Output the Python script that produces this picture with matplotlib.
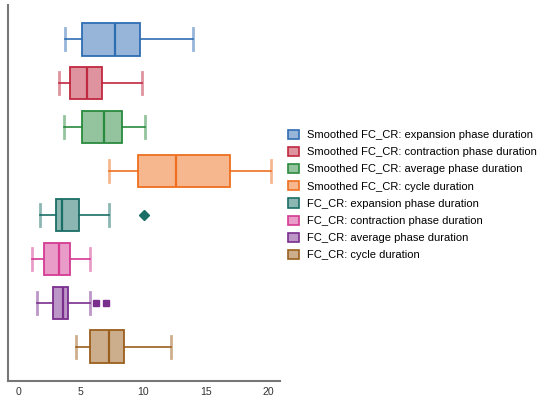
import matplotlib
matplotlib.use("Agg")
import matplotlib.pyplot as plt
from matplotlib.colors import to_rgba
from matplotlib.patches import Patch

plt.rcParams['font.family'] = ['Liberation Sans', 'DejaVu Sans']

labels = [
    "Smoothed FC_CR: expansion phase duration",
    "Smoothed FC_CR: contraction phase duration",
    "Smoothed FC_CR: average phase duration",
    "Smoothed FC_CR: cycle duration",
    "FC_CR: expansion phase duration",
    "FC_CR: contraction phase duration",
    "FC_CR: average phase duration",
    "FC_CR: cycle duration",
]
whislo = [3.78, 3.28, 3.68, 7.28, 1.79, 1.12, 1.52, 4.61]
q1 = [5.15, 4.16, 5.12, 9.63, 3.04, 2.05, 2.83, 5.79]
med = [7.79, 5.55, 6.85, 12.64, 3.55, 3.28, 3.60, 7.25]
q3 = [9.73, 6.75, 8.35, 16.99, 4.91, 4.13, 4.03, 8.45]
whishi = [14.0, 9.89, 10.13, 20.24, 7.28, 5.76, 5.76, 12.24]
fliers = [[], [], [], [], [10.11], [], [6.21, 7.01], []]
flier_markers = ['o', 'o', 'o', 'o', 'D', 'o', 's', 'o']

edge_colors = ['#2f6db3', '#c0283f', '#2a8a3e', '#ee6f1f',
               '#1a6e66', '#d63a93', '#7a2e8e', '#9b5f1d']

fig = plt.figure(figsize=(5.43, 3.98), dpi=100)
ax = fig.add_axes([8 / 543, 1 - 381 / 398, 272 / 543, 376 / 398])

for i in range(len(labels)):
    stats = [dict(whislo=whislo[i], q1=q1[i], med=med[i], q3=q3[i],
                  whishi=whishi[i], fliers=fliers[i])]
    c = edge_colors[i]
    ax.bxp(stats, positions=[i], vert=False, widths=0.74, capwidths=0.5,
           patch_artist=True, manage_ticks=False,
           boxprops=dict(facecolor=to_rgba(c, 0.5), edgecolor=c, linewidth=1.3),
           medianprops=dict(color=c, linewidth=1.6),
           whiskerprops=dict(color=c, linewidth=1.2),
           capprops=dict(color=c, linewidth=2, alpha=0.5),
           flierprops=dict(marker=flier_markers[i], markerfacecolor=c,
                           markeredgecolor=c, markersize=5))

ax.set_xlim(-0.8, 20.95)
ax.set_ylim(7.78, -0.78)
ax.set_yticks([])
ax.set_xticks([0, 5, 10, 15, 20])
ax.tick_params(axis='x', length=0, pad=4, labelsize=7.6, labelcolor='#333333')
for s in ['top', 'right']:
    ax.spines[s].set_visible(False)
for s in ['left', 'bottom']:
    ax.spines[s].set_color('#777777')
    ax.spines[s].set_linewidth(1.5)

handles = [Patch(facecolor=to_rgba(c, 0.5), edgecolor=c, linewidth=1.2)
           for c in edge_colors]
fig.legend(handles, labels, loc='center left', bbox_to_anchor=(284 / 543, 0.51),
           frameon=False, fontsize=8.05, handlelength=0.9, handleheight=0.9,
           handletextpad=0.8, labelspacing=0.6, borderaxespad=0)

fig.savefig("out.png", dpi=100)
